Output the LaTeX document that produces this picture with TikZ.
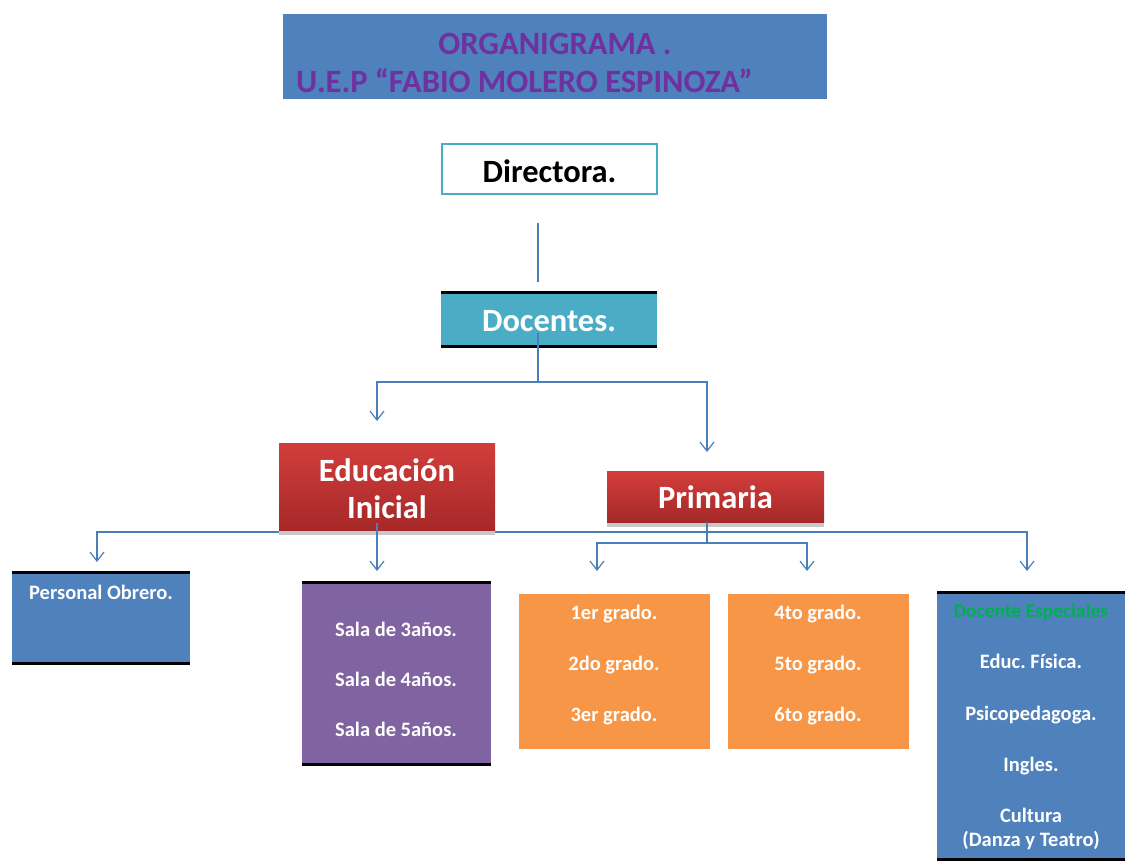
\documentclass[tikz,border=0pt]{standalone}
\usepackage{fontspec}
\setmainfont{Carlito}
\frenchspacing
\usetikzlibrary{arrows.meta,shadows,calc}
\definecolor{tblue}{RGB}{79,129,189}
\definecolor{teal}{RGB}{75,172,198}
\definecolor{redtop}{RGB}{210,62,60}
\definecolor{redbot}{RGB}{166,40,40}
\definecolor{purp}{RGB}{128,100,162}
\definecolor{orng}{RGB}{247,150,70}
\definecolor{grn}{RGB}{0,176,80}
\definecolor{ttl}{RGB}{112,48,160}
\definecolor{lnk}{RGB}{74,126,187}
\begin{document}
\begin{tikzpicture}[x=1pt,y=-1pt,
  boxwh/.style 2 args={minimum width=#1pt, minimum height=#2pt, inner sep=0pt, outer sep=0pt, draw=none},
  redbox/.style={top color=redtop, bottom color=redbot, draw=none,
     drop shadow={shadow xshift=0pt, shadow yshift=-5pt, opacity=0.3, fill=black!70}},
  bar/.style={line width=3pt, black},
  conn/.style={draw=lnk, line width=1.2pt},
  conarrow/.style={-{Straight Barb[length=9pt,width=14pt]}},
  txt/.style={inner sep=0pt, anchor=base, text=white, font=\fontsize{20.5}{20.5}\selectfont\bfseries},
  big/.style={inner sep=0pt, anchor=base, font=\fontsize{32.5}{32.5}\selectfont\bfseries},
]
\useasboundingbox (0,0) rectangle (1125,865);
\fill[white] (0,0) rectangle (1125,865);

% boxes
\node[boxwh={544}{85}, fill=tblue] (title) at (555,56.5) {};
\node[boxwh={215}{50}, draw=teal, line width=2pt, fill=white] (dir) at (549.5,169) {};
\node[boxwh={216}{54}, fill=teal] (doc) at (549,319) {};
\node[boxwh={216}{87}, redbox] (edu) at (387,486.5) {};
\node[boxwh={217}{51}, redbox] (prim) at (715.5,496.5) {};
\node[boxwh={178}{91}, fill=tblue] (po) at (101,617.5) {};
\node[boxwh={189}{182}, fill=purp] (sala) at (396.5,673) {};
\node[boxwh={191}{155}, fill=orng] (g1) at (614.5,671.5) {};
\node[boxwh={181}{155}, fill=orng] (g4) at (818.5,671.5) {};
\node[boxwh={190}{267}, fill=tblue] (de) at (1032,725.5) {};

% black bars
\foreach \b in {doc,po,sala,de}{
  \draw[bar] (\b.north west) -- (\b.north east);
  \draw[bar] (\b.south west) -- (\b.south east);
}

% connector coordinates
\coordinate (dj) at ($(doc.south)+(-11,36)$);
\coordinate (eduin) at ($(edu.north)+(-10,-22)$);
\coordinate (primin) at ($(prim.north)+(-8.5,-19)$);
\coordinate (eduL) at ($(edu.south west)+(0,2)$);
\coordinate (eduR) at ($(edu.south east)+(0,2)$);
\coordinate (poin) at ($(po.north)+(-4,-10)$);
\coordinate (dein) at ($(de.north)+(-5,-21)$);
\coordinate (salain) at ($(sala.north)+(-19.5,-11)$);
\coordinate (pj) at ($(prim.south)+(-8.5,21)$);
\coordinate (g1in) at ($(g1.north)+(-17.5,-23)$);
\coordinate (g4in) at ($(g4.north)+(-11.5,-23)$);

% connectors
\draw[conn] ($(dir.south)+(-11.5,29)$) -- ($(doc.north)+(-11,-10)$);
\draw[conn] ($(doc.south)+(-11,-13)$) -- (dj);
\draw[conn,conarrow] (dj) -| (eduin);
\draw[conn,conarrow] (dj) -| (primin);
\draw[conn,conarrow] (eduL) -| (poin);
\draw[conn,conarrow] (eduR) -| (dein);
\draw[conn,conarrow] ($(edu.south)+(-10,-7)$) -- (salain);
\draw[conn] ($(prim.south)+(-8.5,0)$) -- (pj);
\draw[conn,conarrow] (pj) -| (g1in);
\draw[conn,conarrow] (pj) -| (g4in);

% texts
\node[inner sep=0pt, anchor=base, text=ttl, font=\fontsize{32.5}{32.5}\selectfont\bfseries] (t1) at (555,54) {ORGANIGRAMA .};
\node[inner sep=0pt, anchor=base west, text=ttl, font=\fontsize{32.5}{32.5}\selectfont\bfseries] (t2) at (296,92) {U.E.P “FABIO MOLERO ESPINOZA”};

\node[big, text=black] (dirt) at (549.5,182) {Directora.};
\node[big, text=white] (doct) at (549,331) {Docentes.};
\node[big, text=white] (edu1) at (387,481) {Educación};
\node[big, text=white] (edu2) at (387,518) {Inicial};
\node[big, text=white] (primt) at (715.5,508) {Primaria};

\node[txt] (pot) at (101,599) {Personal Obrero.};

\node[txt] (s3) at (396,636) {Sala de 3años.};
\node[txt] (s4) at (396,686) {Sala de 4años.};
\node[txt] (s5) at (396,736) {Sala de 5años.};

\node[txt] (a1) at (614,619) {1er grado.};
\node[txt] (a2) at (614,670) {2do grado.};
\node[txt] (a3) at (614,721) {3er grado.};
\node[txt] (a4) at (818,619) {4to grado.};
\node[txt] (a5) at (818,670) {5to grado.};
\node[txt] (a6) at (818,721) {6to grado.};

\node[txt, text=grn, font=\fontsize{19.5}{19.5}\selectfont\bfseries] (d0) at (1031,617) {Docente Especiales};
\node[txt] (d1) at (1031,668) {Educ. Física.};
\node[txt] (d2) at (1031,720) {Psicopedagoga.};
\node[txt] (d3) at (1031,771) {Ingles.};
\node[txt] (d4) at (1031,822) {Cultura};
\node[txt] (d5) at (1031,846) {(Danza y Teatro)};
\end{tikzpicture}
\end{document}
